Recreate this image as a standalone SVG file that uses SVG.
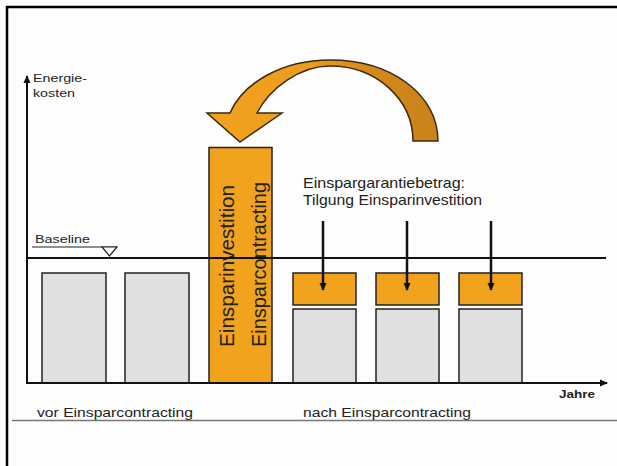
<svg xmlns="http://www.w3.org/2000/svg" width="617" height="466" viewBox="0 0 617 466">
<defs>
<style>
.t{font-family:"Liberation Sans",Arial,sans-serif;fill:#222}
.gray{fill:#e0e0e0;stroke:#222;stroke-width:1.5}
.or{fill:#f2a31e;stroke:#222;stroke-width:1.5}
.ax{stroke:#111;stroke-width:2;fill:none}
</style>
<linearGradient id="arcg" x1="0" y1="0" x2="1" y2="0">
<stop offset="0" stop-color="#f2a31e"/>
<stop offset="0.45" stop-color="#eb9c1e"/>
<stop offset="0.7" stop-color="#d48a1c"/>
<stop offset="1" stop-color="#c9811b"/>
</linearGradient>
<marker id="ah" viewBox="0 0 8 8" refX="7" refY="4" markerWidth="8" markerHeight="8" markerUnits="userSpaceOnUse" orient="auto">
<path d="M0,0.5 L8,4 L0,7.5 Z" fill="#111"/>
</marker>
</defs>
<rect width="617" height="466" fill="#fdfdfd"/>
<path d="M7,466 V7 H617" fill="none" stroke="#000" stroke-width="2.5"/>
<line x1="12" y1="420.5" x2="617" y2="420.5" stroke="#777" stroke-width="1.5"/>

<g id="bars-before">
<rect class="gray" x="42" y="273" width="64" height="110"/>
<rect class="gray" x="125" y="273" width="64" height="110"/>
</g>
<g id="investment">
<rect class="or" x="209" y="147.5" width="63" height="235.5"/>
<text class="t" font-size="20.5" transform="translate(234,347) rotate(-90)" textLength="162" lengthAdjust="spacingAndGlyphs">Einsparinvestition</text>
<text class="t" font-size="20.5" transform="translate(266,347) rotate(-90)" textLength="165" lengthAdjust="spacingAndGlyphs">Einsparcontracting</text>
</g>
<g id="bars-after">
<rect class="or" x="293" y="273" width="63" height="32"/>
<rect class="or" x="376" y="273" width="63" height="32"/>
<rect class="or" x="459" y="273" width="63" height="32"/>
<rect class="gray" x="293" y="309" width="63" height="74"/>
<rect class="gray" x="376" y="309" width="63" height="74"/>
<rect class="gray" x="459" y="309" width="63" height="74"/>
</g>
<g id="curved-arrow">
<path d="M438,141 C438,95 392,60 330,60 C282,60 243,83 230,113 L207,113 L240,142 L282,113 L257,113 C270,88 300,66 330,66 C377,66 413,100 413,141 Z" fill="url(#arcg)" stroke="#3a2a10" stroke-width="1.5" stroke-linejoin="miter"/>
</g>
<g id="connectors">
<line class="ax" x1="27" y1="383" x2="27" y2="76" marker-end="url(#ah)"/>
<line class="ax" x1="26" y1="383" x2="607" y2="383" marker-end="url(#ah)"/>
<line x1="27" y1="258" x2="606" y2="258" stroke="#111" stroke-width="2"/>
<line x1="323" y1="221" x2="323" y2="290" stroke="#111" stroke-width="2.5" marker-end="url(#ah)"/>
<line x1="407" y1="221" x2="407" y2="290" stroke="#111" stroke-width="2.5" marker-end="url(#ah)"/>
<line x1="491" y1="221" x2="491" y2="290" stroke="#111" stroke-width="2.5" marker-end="url(#ah)"/>
</g>
<g id="baseline-label">
<text class="t" x="35" y="243" font-size="10" textLength="55" lengthAdjust="spacingAndGlyphs">Baseline</text>
<line x1="32" y1="247" x2="117" y2="247" stroke="#222" stroke-width="1.2"/>
<path d="M102,247 L117,247 L109.5,256 Z" fill="#fdfdfd" stroke="#222" stroke-width="1.2"/>
</g>
<g id="labels">
<text class="t" x="33" y="82" font-size="11" textLength="54" lengthAdjust="spacingAndGlyphs">Energie-</text>
<text class="t" x="33" y="97" font-size="11" textLength="42" lengthAdjust="spacingAndGlyphs">kosten</text>
<text class="t" x="303" y="188" font-size="15" textLength="162" lengthAdjust="spacingAndGlyphs">Einspargarantiebetrag:</text>
<text class="t" x="303" y="205" font-size="15" textLength="179" lengthAdjust="spacingAndGlyphs">Tilgung Einsparinvestition</text>
<text class="t" x="559" y="398" font-size="10" font-weight="bold" textLength="36" lengthAdjust="spacingAndGlyphs">Jahre</text>
<text class="t" x="37" y="417" font-size="13" textLength="156" lengthAdjust="spacingAndGlyphs">vor Einsparcontracting</text>
<text class="t" x="303" y="417" font-size="13" textLength="168" lengthAdjust="spacingAndGlyphs">nach Einsparcontracting</text>
</g>
</svg>
